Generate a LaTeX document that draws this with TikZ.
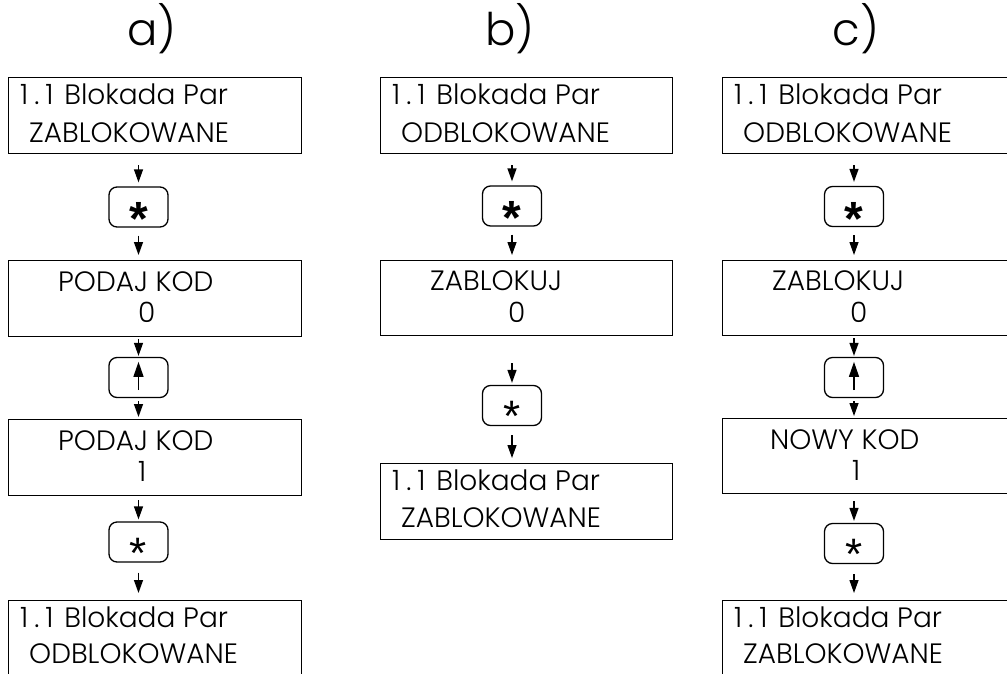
\documentclass[tikz,border=0pt]{standalone}
\usepackage{fontspec}
\setmainfont{Poppins Light}
\newfontfamily\keyfont{Liberation Sans}
\usetikzlibrary{arrows.meta,calc}

% menu header line, with the wide digits of the display font
\newcommand\menuhead{1\kern6pt.\kern6pt1\kern3pt\ Blokada Par}

\begin{document}
\begin{tikzpicture}[x=1pt,y=-1pt,
  panel/.style={draw, line width=1.3pt, anchor=north west, minimum width=293pt,
                minimum height=76pt, inner sep=0pt},
  keybox/.style={draw, line width=1.3pt, rounded corners=8pt, minimum width=59pt,
                 minimum height=40pt, inner sep=0pt},
  lcd/.style={anchor=base west, inner sep=0pt, font=\fontsize{28}{28}\selectfont},
  ttl/.style={anchor=base, inner sep=0pt, font=\fontsize{45}{45}\selectfont},
  boldstar/.style={inner sep=0pt, font=\keyfont\bfseries\fontsize{48}{48}\selectfont, yshift=-12pt},
  thinstar/.style={inner sep=0pt, font=\keyfont\fontsize{44}{44}\selectfont, yshift=-11pt},
  flow/.style={line width=1.3pt, -{Triangle[length=13pt,width=9pt]}, shorten <=6pt, shorten >=4pt},
  uparrow/.style={line width=1.3pt, -{Triangle[length=15pt,width=10pt]}}]

\useasboundingbox (0,0) rectangle (1007,673);
\clip (0,0) rectangle (1007,673);

% column titles
\node[ttl] (ta) at (152,45) {a)};
\node[ttl] (tb) at (510,45) {b)};
\node[ttl] (tc) at (856,45) {c)};

% ---------------- column a ----------------
\node[panel] (a1) at (8,77) {};
\node[lcd] (a1l1) at ($(a1.north west)+(12,27)$) {\menuhead};
\node[lcd] (a1l2) at ($(a1.north west)+(21,65)$) {ZABLOKOWANE};

\node[keybox] (ka1) at (138.5,207) {};
\node[boldstar] (ka1s) at (ka1.center) {*};

\node[panel] (a2) at (8,260) {};
\node[lcd] (a2l1) at ($(a2.north west)+(50,31)$) {PODAJ KOD};
\node[lcd] (a2l2) at ($(a2.north west)+(130,62)$) {0};

\node[keybox] (ka2) at (138.5,377.5) {};
\draw[uparrow] ([yshift=8pt]ka2.south) -- ([yshift=-5pt]ka2.north);

\node[panel] (a3) at (8,419) {};
\node[lcd] (a3l1) at ($(a3.north west)+(50,31)$) {PODAJ KOD};
\node[lcd] (a3l2) at ($(a3.north west)+(130,62)$) {1};

\node[keybox] (ka3) at (138.5,542) {};
\node[thinstar] (ka3s) at (ka3.center) {*};

\node[panel, minimum height=90pt] (a4) at (8,600) {};
\node[lcd] (a4l1) at ($(a4.north west)+(12,27)$) {\menuhead};
\node[lcd] (a4l2) at ($(a4.north west)+(21,63)$) {ODBLOKOWANE};

\draw[flow, shorten <=11pt] (a1.south -| ka1.north) -- (ka1.north);
\draw[flow, shorten <=8pt, shorten >=5pt] (ka1.south) -- (a2.north -| ka1.south);
\draw[flow, shorten <=2pt, shorten >=1pt] (a2.south -| ka2.north) -- (ka2.north);
\draw[flow, shorten <=3pt, shorten >=2pt] (ka2.south) -- (a3.north -| ka2.south);
\draw[flow, shorten <=4pt, shorten >=2pt] (a3.south -| ka3.north) -- (ka3.north);
\draw[flow, shorten <=10pt, shorten >=7pt] (ka3.south) -- (a4.north -| ka3.south);

% ---------------- column b ----------------
\node[panel, minimum width=292pt] (b1) at (380,77) {};
\node[lcd] (b1l1) at ($(b1.north west)+(12,27)$) {\menuhead};
\node[lcd] (b1l2) at ($(b1.north west)+(21,65)$) {ODBLOKOWANE};

\node[keybox] (kb1) at (512,206) {};
\node[boldstar] (kb1s) at (kb1.center) {*};

\node[panel, minimum width=292pt, minimum height=75pt] (b2) at (380,260) {};
\node[lcd] (b2l1) at ($(b2.north west)+(50,30)$) {ZABLOKUJ};
\node[lcd] (b2l2) at ($(b2.north west)+(128,62)$) {0};

\coordinate (bstart) at (512,363);
\node[keybox] (kb2) at (512,405.5) {};
\node[thinstar] (kb2s) at (kb2.center) {*};

\node[panel, minimum width=292pt] (b3) at (380,463) {};
\node[lcd] (b3l1) at ($(b3.north west)+(12,27)$) {\menuhead};
\node[lcd] (b3l2) at ($(b3.north west)+(21,64)$) {ZABLOKOWANE};

\draw[flow, shorten <=11pt] (b1.south -| kb1.north) -- (kb1.north);
\draw[flow, shorten <=8pt, shorten >=5pt] (kb1.south) -- (b2.north -| kb1.south);
\draw[flow, shorten <=0pt, shorten >=2pt] (bstart) -- (kb2.north);
\draw[flow, shorten <=9pt, shorten >=5pt] (kb2.south) -- (b3.north -| kb2.south);

% ---------------- column c ----------------
\node[panel] (c1) at (722,77) {};
\node[lcd] (c1l1) at ($(c1.north west)+(12,27)$) {\menuhead};
\node[lcd] (c1l2) at ($(c1.north west)+(21,65)$) {ODBLOKOWANE};

\node[keybox] (kc1) at (854,206.5) {};
\node[boldstar] (kc1s) at (kc1.center) {*};

\node[panel, minimum height=75pt] (c2) at (722,260) {};
\node[lcd] (c2l1) at ($(c2.north west)+(50,30)$) {ZABLOKUJ};
\node[lcd] (c2l2) at ($(c2.north west)+(128,62)$) {0};

\node[keybox] (kc2) at (854,377.5) {};
\draw[uparrow] ([yshift=8pt]kc2.south) -- ([yshift=-5pt]kc2.north);

\node[panel, minimum height=75pt] (c3) at (722,418) {};
\node[lcd] (c3l1) at ($(c3.north west)+(48,31)$) {NOWY KOD};
\node[lcd] (c3l2) at ($(c3.north west)+(130,62)$) {1};

\node[keybox] (kc3) at (854,543.5) {};
\node[thinstar] (kc3s) at (kc3.center) {*};

\node[panel, minimum height=90pt] (c4) at (722,600) {};
\node[lcd] (c4l1) at ($(c4.north west)+(12,27)$) {\menuhead};
\node[lcd] (c4l2) at ($(c4.north west)+(21,63)$) {ZABLOKOWANE};

\draw[flow, shorten <=11pt] (c1.south -| kc1.north) -- (kc1.north);
\draw[flow, shorten <=8pt, shorten >=5pt] (kc1.south) -- (c2.north -| kc1.south);
\draw[flow, shorten <=2pt, shorten >=1pt] (c2.south -| kc2.north) -- (kc2.north);
\draw[flow, shorten <=3pt, shorten >=2pt] (kc2.south) -- (c3.north -| kc2.south);
\draw[flow, shorten <=7pt, shorten >=2pt] (c3.south -| kc3.north) -- (kc3.north);
\draw[flow, shorten <=10pt, shorten >=7pt] (kc3.south) -- (c4.north -| kc3.south);
\end{tikzpicture}
\end{document}
